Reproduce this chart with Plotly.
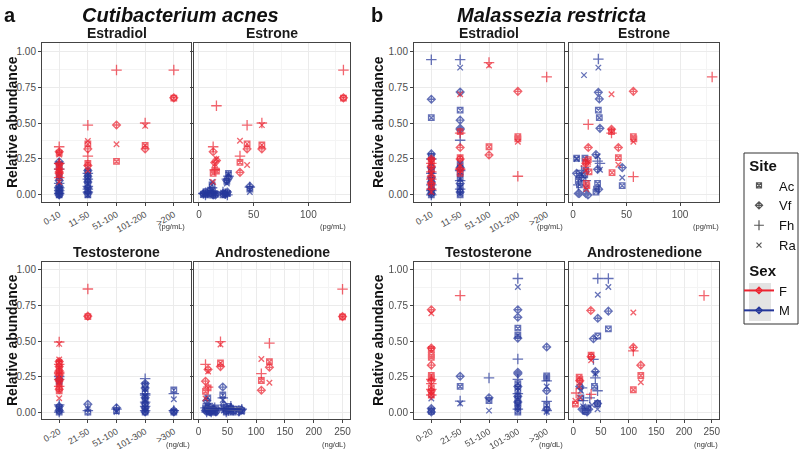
import numpy as np
import plotly.graph_objects as go

SITES = ["Ac", "Vf", "Fh", "Ra"]
RED = "#EC2330"
BLUE = "#24369A"
SYMBOLS = {"Ac": "square-x-open", "Vf": "diamond-cross-open", "Fh": "cross-thin-open", "Ra": "x-thin-open"}
SIZES = {"Ac": 5.5, "Vf": 6.0, "Fh": 7.5, "Ra": 5.5}

# category / tick labels
e2_cats = ["0-10", "11-50", "51-100", "101-200", ">200"]
t_cats = ["0-20", "21-50", "51-100", "101-300", ">300"]
y_ticks = [0, 0.25, 0.5, 0.75, 1.0]

# ---------------- panel a : Cutibacterium acnes ----------------
# Estradiol (categorical); one entry per subject, values per site
aE2_F_x = ["0-10", "0-10", "0-10", "0-10", "11-50", "11-50", "51-100", "101-200", ">200"]
aE2_F_Ac = [0.29, 0.20, 0.17, 0.145, 0.355, 0.22, 0.233, 0.345, 0.673]
aE2_F_Vf = [0.30, 0.215, 0.16, 0.15, 0.32, 0.205, 0.486, 0.32, 0.675]
aE2_F_Fh = [0.335, 0.22, 0.18, 0.12, 0.485, 0.27, 0.868, 0.50, 0.868]
aE2_F_Ra = [0.28, 0.19, 0.09, 0.17, 0.375, 0.17, 0.352, 0.48, None]
aE2_M_x = ["0-10"] * 7 + ["11-50"] * 6
aE2_M_Ac = [0.00, 0.01, 0.03, 0.05, 0.02, 0.12, 0.21, 0.00, 0.03, 0.07, 0.12, 0.16, 0.10]
aE2_M_Vf = [0.00, 0.02, 0.04, 0.06, 0.01, 0.10, 0.23, 0.01, 0.05, 0.09, 0.13, 0.17, 0.02]
aE2_M_Fh = [0.01, 0.03, 0.08, 0.18, 0.22, 0.05, None, 0.02, 0.06, 0.15, 0.11, 0.04, None]
aE2_M_Ra = [0.00, 0.02, 0.04, 0.14, 0.07, 0.16, None, 0.00, 0.04, 0.08, 0.14, 0.12, None]

# Estrone (pg/mL)
aE1_F_x = [16, 13, 14.5, 37.5, 44, 57.5, 132]
aE1_F_Ac = [0.165, 0.15, 0.17, 0.227, 0.355, 0.347, 0.673]
aE1_F_Vf = [0.24, 0.30, 0.225, 0.157, 0.32, 0.32, 0.675]
aE1_F_Fh = [0.62, 0.335, 0.175, 0.27, 0.485, 0.50, 0.868]
aE1_F_Ra = [0.25, 0.09, 0.215, 0.377, 0.208, 0.485, None]
aE1_M_x = [4, 6, 8, 10, 12, 13, 15, 12, 22, 24, 26, 27, 25.5, 46.5]
aE1_M_Ac = [0.005, 0.01, 0.0, 0.01, 0.07, 0.0, 0.005, 0.0, 0.0, 0.015, 0.01, 0.15, 0.095, 0.04]
aE1_M_Vf = [0.01, 0.02, 0.01, 0.03, 0.01, 0.0, 0.0, 0.02, 0.01, 0.005, 0.02, 0.12, 0.10, 0.06]
aE1_M_Fh = [0.01, 0.0, 0.02, 0.04, 0.05, 0.01, 0.02, 0.03, 0.02, 0.01, 0.0, 0.13, 0.11, 0.055]
aE1_M_Ra = [0.0, 0.01, 0.005, 0.02, 0.09, 0.005, 0.01, 0.03, 0.015, 0.0, 0.01, 0.14, 0.08, 0.02]

# Testosterone (categorical)
aT_F_x = ["0-20"] * 6 + ["21-50"]
aT_F_Ac = [0.345, 0.30, 0.25, 0.21, 0.15, 0.17, 0.672]
aT_F_Vf = [0.355, 0.32, 0.29, 0.22, 0.16, 0.26, 0.675]
aT_F_Fh = [0.493, 0.335, 0.27, 0.18, 0.23, 0.28, 0.866]
aT_F_Ra = [0.48, 0.37, 0.31, 0.20, 0.097, 0.35, None]
aT_M_x = ["0-20"] * 3 + ["21-50", "51-100"] + ["101-300"] * 6 + [">300"] * 2
aT_M_Ac = [0.22, 0.0, 0.03, 0.0, 0.01, 0.19, 0.14, 0.09, 0.05, 0.02, 0.0, 0.155, 0.0]
aT_M_Vf = [0.23, 0.01, 0.04, 0.055, 0.03, 0.20, 0.17, 0.10, 0.06, 0.03, 0.0, 0.0, 0.01]
aT_M_Fh = [0.25, 0.05, 0.0, 0.01, 0.02, 0.235, 0.12, 0.04, 0.01, 0.13, 0.07, 0.13, 0.01]
aT_M_Ra = [0.21, 0.02, 0.01, 0.02, 0.0, 0.16, 0.08, 0.01, 0.03, 0.11, 0.005, 0.09, 0.005]

# Androstenedione (ng/dL)
aA_F_x = [38, 12, 16.5, 109, 123, 250]
aA_F_Ac = [0.345, 0.145, 0.17, 0.222, 0.354, 0.67]
aA_F_Vf = [0.32, 0.217, 0.30, 0.153, 0.315, 0.672]
aA_F_Fh = [0.495, 0.335, 0.175, 0.27, 0.485, 0.865]
aA_F_Ra = [0.475, 0.095, 0.285, 0.373, 0.206, None]
aA_M_x = [12, 14, 16, 18, 20, 22, 25, 28, 30, 42, 44, 48, 52, 56, 60, 70, 75]
aA_M_Ac = [0.03, 0.02, 0.1, 0.0, 0.02, 0.0, 0.01, 0.0, 0.03, 0.12, 0.03, 0.0, 0.04, 0.02, 0.0, 0.02, 0.01]
aA_M_Vf = [0.01, 0.08, 0.01, 0.04, 0.0, 0.015, 0.02, 0.01, 0.0, 0.176, 0.05, 0.01, 0.02, 0.03, 0.01, 0.0, 0.015]
aA_M_Fh = [0.03, 0.0, 0.06, 0.02, 0.01, 0.0, 0.02, 0.03, 0.01, 0.10, 0.02, 0.0, 0.01, 0.04, 0.015, 0.01, 0.02]
aA_M_Ra = [0.02, 0.005, 0.04, 0.01, 0.0, 0.02, 0.0, 0.01, 0.005, 0.085, 0.01, 0.02, 0.0, 0.01, 0.005, 0.02, 0.0]

# ---------------- panel b : Malassezia restricta ----------------
bE2_F_x = ["0-10"] * 4 + ["11-50"] * 3 + ["51-100", "101-200", "101-200", ">200"]
bE2_F_Ac = [0.24, 0.235, 0.18, 0.058, 0.44, 0.26, 0.15, 0.335, 0.405, 0.39, None]
bE2_F_Vf = [0.25, 0.20, 0.08, 0.13, 0.33, 0.25, 0.18, 0.278, 0.72, None, None]
bE2_F_Fh = [0.16, 0.04, 0.22, 0.11, 0.43, 0.18, None, 0.92, 0.13, None, 0.82]
bE2_F_Ra = [0.23, 0.10, 0.02, 0.15, 0.70, 0.20, None, 0.90, 0.37, None, None]
bE2_M_x = ["0-10"] * 7 + ["11-50"] * 7
bE2_M_Ac = [0.537, 0.27, 0.17, 0.10, 0.05, 0.02, 0.0, 0.59, 0.21, 0.12, 0.06, 0.03, 0.16, 0.0]
bE2_M_Vf = [0.665, 0.285, 0.19, 0.12, 0.09, 0.04, 0.01, 0.715, 0.52, 0.463, 0.455, 0.19, 0.08, 0.02]
bE2_M_Fh = [0.94, 0.25, 0.15, 0.07, 0.0, 0.03, None, 0.94, 0.38, 0.17, 0.04, 0.10, None, None]
bE2_M_Ra = [0.22, 0.11, 0.03, 0.015, 0.06, 0.14, None, 0.885, 0.22, 0.16, 0.11, 0.01, 0.05, None]

bE1_F_x = [36, 36.5, 56.4, 56.9, 14.3, 42.4, 12, 12.5, 15, 13, 130]
bE1_F_Ac = [0.44, 0.155, 0.405, 0.39, 0.245, 0.26, 0.232, 0.08, 0.16, 0.065, None]
bE1_F_Vf = [0.456, None, 0.72, None, 0.33, 0.33, 0.22, None, None, None, None]
bE1_F_Fh = [0.43, None, 0.127, None, 0.49, None, 0.20, None, None, None, 0.82]
bE1_F_Ra = [0.70, None, 0.37, None, 0.23, 0.21, 0.17, 0.04, None, None, None]
bE1_M_x = [23.7, 10.3, 23, 24.6, 25.2, 46, 3.4, 11.2, 21.5, 5, 8, 6, 12, 11, 22, 14, 24]
bE1_M_Ac = [0.59, None, 0.08, 0.537, None, 0.065, 0.255, 0.255, 0.02, 0.10, None, 0.07, 0.17, 0.14, 0.04, None, None]
bE1_M_Vf = [0.713, None, 0.178, 0.667, 0.463, 0.19, 0.15, None, 0.28, 0.01, 0.12, 0.01, 0.01, None, None, 0.0, 0.04]
bE1_M_Fh = [0.944, None, 0.235, None, 0.22, None, None, None, None, 0.07, 0.17, None, 0.10, None, None, None, None]
bE1_M_Ra = [0.885, 0.833, 0.27, None, 0.175, 0.12, 0.25, None, None, 0.14, 0.14, None, 0.05, None, None, None, None]

bT_F_x = ["0-20"] * 7 + ["21-50"]
bT_F_Ac = [0.44, 0.40, 0.385, 0.257, 0.17, 0.24, 0.12, None]
bT_F_Vf = [0.72, 0.45, 0.33, 0.22, 0.15, None, None, None]
bT_F_Fh = [0.20, 0.16, 0.23, 0.12, None, None, None, 0.82]
bT_F_Ra = [0.695, 0.14, 0.12, None, None, None, None, None]
bT_M_x = ["0-20"] * 2 + ["21-50", "51-100"] + ["101-300"] * 8 + [">300"] * 3
bT_M_Ac = [0.005, 0.01, 0.18, 0.08, 0.59, 0.54, 0.20, 0.15, 0.10, 0.06, 0.04, 0.0, 0.255, 0.24, 0.05]
bT_M_Vf = [0.025, 0.0, 0.252, 0.10, 0.72, 0.667, 0.52, 0.28, 0.27, 0.18, 0.11, 0.07, 0.458, 0.15, 0.02]
bT_M_Fh = [None, None, 0.077, 0.24, 0.94, 0.373, 0.23, 0.13, 0.02, None, None, None, 0.22, 0.075, 0.01]
bT_M_Ra = [0.095, None, 0.06, 0.01, 0.88, 0.17, 0.09, 0.03, 0.01, 0.05, None, None, 0.18, 0.0, 0.005]

bA_F_x = [31.8, 32.4, 10.8, 12, 5.4, 4, 108.5, 122, 236]
bA_F_Ac = [None, 0.40, 0.245, 0.23, None, 0.055, 0.157, 0.257, None]
bA_F_Vf = [0.715, 0.39, None, 0.22, None, None, 0.455, 0.33, None]
bA_F_Fh = [None, 0.125, None, None, 0.134, None, 0.43, None, 0.82]
bA_F_Ra = [None, 0.365, 0.18, 0.10, None, 0.08, 0.70, 0.21, None]
bA_M_x = [44.4, 63.5, 36.6, 40, 44, 12, 14, 16, 18, 20, 22, 25, 28, 30, 34, 38.4, 26]
bA_M_Ac = [0.535, 0.585, None, None, 0.06, None, 0.10, None, None, None, 0.005, None, None, None, None, 0.18, 0.03]
bA_M_Vf = [0.66, 0.71, 0.516, 0.285, 0.06, 0.18, None, 0.02, None, 0.01, None, 0.0, 0.02, None, None, None, None]
bA_M_Fh = [0.94, 0.94, 0.37, 0.24, 0.15, None, None, 0.17, 0.08, None, None, None, None, 0.10, None, None, None]
bA_M_Ra = [0.825, 0.88, None, 0.27, 0.02, None, 0.15, None, 0.04, None, None, None, None, None, 0.05, None, None]


def grp(x, ac, vf, fh, ra):
    return x, dict(zip(SITES, [ac, vf, fh, ra]))


DATA = {
    "aE2": {"F": grp(aE2_F_x, aE2_F_Ac, aE2_F_Vf, aE2_F_Fh, aE2_F_Ra), "M": grp(aE2_M_x, aE2_M_Ac, aE2_M_Vf, aE2_M_Fh, aE2_M_Ra)},
    "aE1": {"F": grp(aE1_F_x, aE1_F_Ac, aE1_F_Vf, aE1_F_Fh, aE1_F_Ra), "M": grp(aE1_M_x, aE1_M_Ac, aE1_M_Vf, aE1_M_Fh, aE1_M_Ra)},
    "aT": {"F": grp(aT_F_x, aT_F_Ac, aT_F_Vf, aT_F_Fh, aT_F_Ra), "M": grp(aT_M_x, aT_M_Ac, aT_M_Vf, aT_M_Fh, aT_M_Ra)},
    "aA": {"F": grp(aA_F_x, aA_F_Ac, aA_F_Vf, aA_F_Fh, aA_F_Ra), "M": grp(aA_M_x, aA_M_Ac, aA_M_Vf, aA_M_Fh, aA_M_Ra)},
    "bE2": {"F": grp(bE2_F_x, bE2_F_Ac, bE2_F_Vf, bE2_F_Fh, bE2_F_Ra), "M": grp(bE2_M_x, bE2_M_Ac, bE2_M_Vf, bE2_M_Fh, bE2_M_Ra)},
    "bE1": {"F": grp(bE1_F_x, bE1_F_Ac, bE1_F_Vf, bE1_F_Fh, bE1_F_Ra), "M": grp(bE1_M_x, bE1_M_Ac, bE1_M_Vf, bE1_M_Fh, bE1_M_Ra)},
    "bT": {"F": grp(bT_F_x, bT_F_Ac, bT_F_Vf, bT_F_Fh, bT_F_Ra), "M": grp(bT_M_x, bT_M_Ac, bT_M_Vf, bT_M_Fh, bT_M_Ra)},
    "bA": {"F": grp(bA_F_x, bA_F_Ac, bA_F_Vf, bA_F_Fh, bA_F_Ra), "M": grp(bA_M_x, bA_M_Ac, bA_M_Vf, bA_M_Fh, bA_M_Ra)},
}

W, H = 800, 449
FONT = "Liberation Sans, Arial, Helvetica, sans-serif"


def fx(px):
    return px / W


def fy(py):
    return 1 - py / H


# facet layout: key, title, x px range, y px range, kind, ticks info, show y labels, unit, unit x
FACETS = [
    ("aE2", "Estradiol", (42, 191), (43, 202), "cat", e2_cats, True, "(pg/mL)", 172),
    ("aE1", "Estrone", (194, 350), (43, 202), "num", ([0, 50, 100], [25, 75, 125], [-4.5, 138]), False, "(pg/mL)", 333),
    ("aT", "Testosterone", (42, 191), (262, 419), "cat", t_cats, True, "(ng/dL)", 178),
    ("aA", "Androstenedione", (194, 350), (262, 419), "num", ([0, 50, 100, 150, 200, 250], [25, 75, 125, 175, 225], [-8, 263]), False, "(ng/dL)", 334),
    ("bE2", "Estradiol", (414, 564), (43, 202), "cat", e2_cats, True, "(pg/mL)", 550),
    ("bE1", "Estrone", (569, 719), (43, 202), "num", ([0, 50, 100], [25, 75, 125], [-3.7, 136.4]), False, "(pg/mL)", 706),
    ("bT", "Testosterone", (414, 564), (262, 419), "cat", t_cats, True, "(ng/dL)", 551),
    ("bA", "Androstenedione", (569, 719), (262, 419), "num", ([0, 50, 100, 150, 200, 250], [25, 75, 125, 175, 225], [-7.5, 263]), False, "(ng/dL)", 706),
]

GRID = "#EBEBEB"
MINOR = "#F4F4F4"
TICKFONT = dict(family=FONT, size=10, color="#4D4D4D")
CATFONT = dict(family=FONT, size=9, color="#4D4D4D")

fig = go.Figure()
layout = dict(width=W, height=H, margin=dict(l=0, r=0, t=0, b=0, autoexpand=False),
              paper_bgcolor="white", plot_bgcolor="white", showlegend=True)
annotations = []


def note(text, px, py, size, color="#111111", angle=0):
    annotations.append(dict(text=text, x=fx(px), y=fy(py), xref="paper", yref="paper",
                            showarrow=False, textangle=angle, xanchor="center", yanchor="middle",
                            font=dict(family=FONT, size=size, color=color)))


for i, (key, title, (x0, x1), (y0, y1), kind, tinfo, ylab, unit, ux) in enumerate(FACETS):
    n = i + 1
    xa = "xaxis" if n == 1 else f"xaxis{n}"
    ya = "yaxis" if n == 1 else f"yaxis{n}"
    xr = "x" if n == 1 else f"x{n}"
    yr = "y" if n == 1 else f"y{n}"
    common = dict(showline=True, linecolor="#444444", linewidth=1, mirror=True, automargin=False,
                  ticks="outside", ticklen=3, tickcolor="#444444", tickwidth=1,
                  zeroline=False, gridcolor=GRID, gridwidth=1, tickfont=TICKFONT)
    if kind == "cat":
        xax = dict(common, domain=[fx(x0), fx(x1)], anchor=yr, type="category",
                   categoryorder="array", categoryarray=tinfo, tickvals=tinfo,
                   range=[-0.6, len(tinfo) - 0.4], tickangle=-30, tickfont=CATFONT)
    else:
        tv, mv, rg = tinfo
        xax = dict(common, domain=[fx(x0), fx(x1)], anchor=yr, range=rg, tickvals=tv,
                   minor=dict(tickvals=mv, showgrid=True, gridcolor=MINOR, gridwidth=0.6, ticks=""))
    yax = dict(common, domain=[fy(y1), fy(y0)], anchor=xr, range=[-0.049, 1.056],
               tickvals=y_ticks, ticktext=[f"{v:.2f}" for v in y_ticks], showticklabels=ylab,
               minor=dict(tickvals=[0.125, 0.375, 0.625, 0.875], showgrid=True, gridcolor=MINOR,
                          gridwidth=0.6, ticks=""))
    layout[xa] = xax
    layout[ya] = yax

    for sex in ["M", "F"]:
        xs, sites = DATA[key][sex]
        col = RED if sex == "F" else BLUE
        for site in SITES:
            ys = sites[site]
            px_ = [x for x, y in zip(xs, ys) if y is not None]
            py_ = [y for y in ys if y is not None]
            fig.add_trace(go.Scatter(
                x=px_, y=py_, mode="markers", xaxis=xr, yaxis=yr, showlegend=False,
                opacity=0.7, hoverinfo="skip",
                marker=dict(symbol=SYMBOLS[site], size=SIZES[site], color=col,
                            line=dict(width=1.3, color=col))))

    # regression line for males in C. acnes / androstenedione
    if key == "aA":
        xs, sites = DATA[key]["M"]
        mx = np.array([x for s in SITES for x, y in zip(xs, sites[s]) if y is not None], float)
        my = np.array([y for s in SITES for y in sites[s] if y is not None], float)
        b, a = np.polyfit(mx, my, 1)
        gx = np.linspace(mx.min(), mx.max(), 60)
        gy = a + b * gx
        resid = my - (a + b * mx)
        s = np.sqrt((resid ** 2).sum() / (len(mx) - 2))
        se = s * np.sqrt(1 / len(mx) + (gx - mx.mean()) ** 2 / ((mx - mx.mean()) ** 2).sum())
        fig.add_trace(go.Scatter(
            x=np.concatenate([gx, gx[::-1]]), y=np.concatenate([gy + 1.98 * se, (gy - 1.98 * se)[::-1]]),
            fill="toself", fillcolor="rgba(150,150,150,0.4)", line=dict(width=0), mode="lines",
            xaxis=xr, yaxis=yr, showlegend=False, hoverinfo="skip"))
        fig.add_trace(go.Scatter(x=gx, y=gy, mode="lines", line=dict(color=BLUE, width=2),
                                 xaxis=xr, yaxis=yr, showlegend=False, hoverinfo="skip"))

    note(f"<b>{title}</b>", (x0 + x1) / 2, y0 - 10, 14, "#1A1A1A")
    note(unit, ux, y1 + 24 if y0 < 100 else y1 + 25, 7.5, "#333333")

# y titles
for px_, py_ in [(12, 122), (12, 340), (378, 122), (378, 340)]:
    note("<b>Relative abundance</b>", px_, py_, 14, angle=-90)

# panel titles
for lab, lx, name, nx in [("a", 10, "Cutibacterium acnes", 180), ("b", 377, "Malassezia restricta", 551)]:
    note(f"<b>{lab}</b>", lx, 15, 20)
    note(f"<b><i>{name}</i></b>", nx, 15, 20)

# legend entries
for j, site in enumerate(SITES):
    fig.add_trace(go.Scatter(x=[None], y=[None], mode="markers", name=site, legend="legend",
                             marker=dict(symbol=SYMBOLS[site], size=SIZES[site] - 0.5, color="#555555",
                                         line=dict(width=1.2, color="#555555"))))
for sex, col in [("F", RED), ("M", BLUE)]:
    fig.add_trace(go.Scatter(x=[None], y=[None], mode="lines+markers", name=sex, legend="legend2",
                             line=dict(color=col, width=2),
                             marker=dict(symbol="diamond-cross-open", size=5, color=col,
                                         line=dict(width=1.2, color=col))))

LEGFONT = dict(family=FONT, size=13, color="#111111")
NB = "\u00a0\u00a0"
layout["legend"] = dict(title=dict(text=NB + "<b>Site</b>", font=dict(family=FONT, size=15, color="#111111")),
                        x=fx(739), xanchor="left", y=fy(151), yanchor="top", borderwidth=0,
                        bgcolor="rgba(0,0,0,0)", font=LEGFONT, itemwidth=30)
layout["legend2"] = dict(title=dict(text=NB + "<b>Sex</b>", font=dict(family=FONT, size=15, color="#111111")),
                         x=fx(739), xanchor="left", y=fy(256), yanchor="top", borderwidth=0,
                         bgcolor="rgba(0,0,0,0)", font=LEGFONT, itemwidth=30)
layout["shapes"] = [
    dict(type="rect", xref="paper", yref="paper", x0=fx(744), x1=fx(798), y0=fy(324), y1=fy(153),
         line=dict(color="#333333", width=1), fillcolor="white", layer="below"),
    dict(type="rect", xref="paper", yref="paper", x0=fx(749), x1=fx(771), y0=fy(321), y1=fy(283),
         line=dict(width=0), fillcolor="#E3E3E3", layer="below"),
]
layout["annotations"] = annotations
fig.update_layout(**layout)
fig.write_html("out.html", config={"displayModeBar": False},
               post_script="document.body.style.margin='0';document.body.style.padding='0';")
